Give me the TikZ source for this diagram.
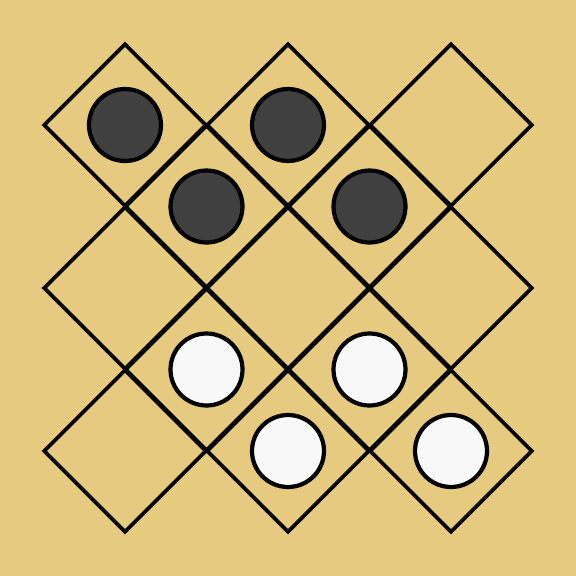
\documentclass[tikz,border=0pt]{standalone}
\usetikzlibrary{shapes.geometric}
\definecolor{boardbg}{HTML}{E6CA80}
\definecolor{darkpiece}{HTML}{404040}
\definecolor{lightpiece}{HTML}{F8F8F8}
\begin{document}
\begin{tikzpicture}[x=1pt,y=-1pt,
  cell/.style={diamond,draw=black,line width=3.6pt,minimum size=163pt,inner sep=0pt,aspect=1,shape aspect=1},
  stone/.style={circle,draw=black,line width=4.2pt,minimum size=72pt,inner sep=0pt},
  darkstone/.style={stone,fill=darkpiece},
  lightstone/.style={stone,fill=lightpiece}]
\fill[boardbg] (0,0) rectangle (576,576);
\useasboundingbox (0,0) rectangle (576,576);
\foreach \cx/\cy [count=\i] in {125/125,288/125,451/125,206.5/206.5,369.5/206.5,125/288,288/288,451/288,206.5/369.5,369.5/369.5,125/451,288/451,451/451}{
  \node[cell] (c\i) at (\cx,\cy) {};
}
\node[darkstone] (d1) at (c1) {};
\node[darkstone] (d2) at (c2) {};
\node[darkstone] (d3) at (c4) {};
\node[darkstone] (d4) at (c5) {};
\node[lightstone] (l1) at (c9) {};
\node[lightstone] (l2) at (c10) {};
\node[lightstone] (l3) at (c12) {};
\node[lightstone] (l4) at (c13) {};
\end{tikzpicture}
\end{document}
